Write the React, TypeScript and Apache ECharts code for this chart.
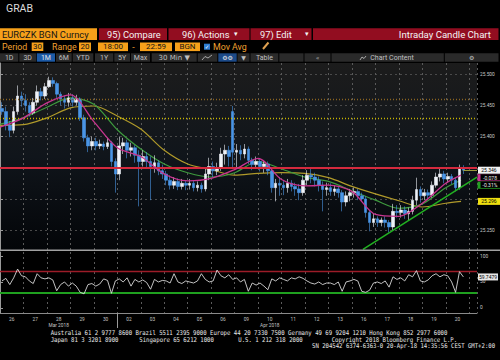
import React, { useEffect, useRef } from 'react';
import * as echarts from 'echarts';

// ---------- data ----------
const dayLabels = ['26', '27', '28', '29', '30', '02', '03', '04', '05', '06', '09', '10', '11', '12', '13', '16', '17', '18', '19', '20'];
const monthLabels = [{ day: 2, text: 'Mar 2018' }, { day: 11, text: 'Apr 2018' }];
const monthStarts = [5];
const slotsPerDay = 6;
const xMax = 20.33;

// 30-min candles grouped by day: [open, close, low, high]
const candles: number[][][] = [
  [[25.445, 25.44, 25.435, 25.455], [25.44, 25.418, 25.41, 25.448], [25.418, 25.41, 25.399, 25.425], [25.41, 25.44, 25.405, 25.448], [25.44, 25.465, 25.435, 25.482], [25.465, 25.458, 25.448, 25.472]],
  [[25.458, 25.45, 25.44, 25.468], [25.45, 25.438, 25.432, 25.455], [25.438, 25.455, 25.435, 25.462], [25.455, 25.472, 25.45, 25.482], [25.472, 25.465, 25.458, 25.478], [25.465, 25.48, 25.46, 25.486]],
  [[25.48, 25.49, 25.478, 25.496], [25.49, 25.485, 25.48, 25.495], [25.485, 25.468, 25.462, 25.488], [25.468, 25.46, 25.45, 25.472], [25.46, 25.455, 25.445, 25.466], [25.455, 25.462, 25.448, 25.47]],
  [[25.462, 25.455, 25.448, 25.468], [25.455, 25.46, 25.45, 25.467], [25.46, 25.43, 25.425, 25.463], [25.43, 25.398, 25.392, 25.435], [25.398, 25.385, 25.375, 25.403], [25.385, 25.392, 25.378, 25.4]],
  [[25.392, 25.385, 25.378, 25.398], [25.385, 25.388, 25.38, 25.395], [25.388, 25.384, 25.378, 25.392], [25.384, 25.39, 25.38, 25.398], [25.39, 25.36, 25.352, 25.393], [25.36, 25.34, 25.31, 25.365]],
  [[25.34, 25.385, 25.33, 25.4], [25.385, 25.39, 25.372, 25.398], [25.39, 25.378, 25.365, 25.395], [25.378, 25.382, 25.368, 25.39], [25.382, 25.37, 25.358, 25.386], [25.37, 25.36, 25.288, 25.378]],
  [[25.36, 25.368, 25.352, 25.378], [25.368, 25.36, 25.35, 25.375], [25.36, 25.352, 25.298, 25.368], [25.352, 25.358, 25.342, 25.37], [25.358, 25.345, 25.338, 25.362], [25.345, 25.34, 25.332, 25.355]],
  [[25.34, 25.33, 25.322, 25.345], [25.33, 25.322, 25.315, 25.338], [25.322, 25.328, 25.316, 25.335], [25.328, 25.32, 25.314, 25.333], [25.32, 25.325, 25.315, 25.332], [25.325, 25.322, 25.314, 25.33]],
  [[25.322, 25.325, 25.315, 25.332], [25.325, 25.318, 25.312, 25.33], [25.318, 25.322, 25.312, 25.328], [25.322, 25.316, 25.31, 25.326], [25.316, 25.34, 25.312, 25.348], [25.34, 25.352, 25.33, 25.366]],
  [[25.352, 25.345, 25.335, 25.36], [25.345, 25.35, 25.338, 25.358], [25.35, 25.372, 25.345, 25.382], [25.372, 25.378, 25.355, 25.387], [25.378, 25.368, 25.352, 25.385], [25.44, 25.375, 25.35, 25.449]],
  [[25.375, 25.378, 25.35, 25.388], [25.378, 25.372, 25.362, 25.386], [25.372, 25.38, 25.365, 25.388], [25.38, 25.362, 25.356, 25.384], [25.362, 25.355, 25.346, 25.366], [25.355, 25.36, 25.348, 25.368]],
  [[25.36, 25.352, 25.344, 25.364], [25.352, 25.356, 25.342, 25.362], [25.356, 25.345, 25.338, 25.36], [25.345, 25.318, 25.31, 25.348], [25.318, 25.325, 25.296, 25.332], [25.325, 25.322, 25.305, 25.335]],
  [[25.322, 25.318, 25.306, 25.33], [25.318, 25.325, 25.31, 25.332], [25.325, 25.32, 25.312, 25.33], [25.32, 25.316, 25.305, 25.326], [25.316, 25.31, 25.298, 25.324], [25.31, 25.33, 25.305, 25.338]],
  [[25.33, 25.338, 25.322, 25.346], [25.338, 25.335, 25.325, 25.348], [25.335, 25.33, 25.32, 25.342], [25.33, 25.322, 25.312, 25.336], [25.322, 25.315, 25.28, 25.328], [25.315, 25.318, 25.305, 25.326]],
  [[25.318, 25.312, 25.305, 25.325], [25.312, 25.316, 25.305, 25.322], [25.316, 25.31, 25.302, 25.32], [25.31, 25.295, 25.28, 25.314], [25.295, 25.305, 25.288, 25.312], [25.305, 25.31, 25.296, 25.316]],
  [[25.31, 25.312, 25.302, 25.318], [25.312, 25.305, 25.298, 25.316], [25.305, 25.3, 25.295, 25.31], [25.3, 25.278, 25.27, 25.304], [25.278, 25.262, 25.248, 25.282], [25.262, 25.268, 25.255, 25.276]],
  [[25.268, 25.262, 25.255, 25.272], [25.262, 25.266, 25.256, 25.27], [25.266, 25.262, 25.254, 25.272], [25.262, 25.255, 25.246, 25.266], [25.255, 25.28, 25.25, 25.292], [25.28, 25.278, 25.27, 25.29]],
  [[25.278, 25.282, 25.27, 25.29], [25.282, 25.276, 25.268, 25.288], [25.276, 25.28, 25.266, 25.286], [25.28, 25.298, 25.275, 25.305], [25.298, 25.315, 25.29, 25.334], [25.315, 25.305, 25.294, 25.32]],
  [[25.305, 25.31, 25.298, 25.316], [25.31, 25.306, 25.298, 25.315], [25.306, 25.322, 25.302, 25.328], [25.322, 25.335, 25.318, 25.342], [25.335, 25.34, 25.328, 25.348], [25.34, 25.332, 25.325, 25.345]],
  [[25.332, 25.336, 25.326, 25.342], [25.336, 25.33, 25.324, 25.34], [25.33, 25.318, 25.312, 25.334], [25.318, 25.35, 25.315, 25.355], [25.35, 25.346, 25.34, 25.354]],
];

// moving averages read at day boundaries
const maDays = [0, 1, 2, 3, 4, 5, 6, 7, 8, 9, 10, 11, 12, 13, 14, 15, 16, 17, 18, 19, 19.65];
const maFast = [25.415, 25.43, 25.454, 25.467, 25.424, 25.382, 25.368, 25.34, 25.329, 25.333, 25.347, 25.365, 25.331, 25.321, 25.322, 25.312, 25.275, 25.272, 25.293, 25.325, 25.338];
const maMid = [25.42, 25.43, 25.447, 25.462, 25.452, 25.411, 25.38, 25.356, 25.342, 25.335, 25.342, 25.36, 25.348, 25.335, 25.328, 25.313, 25.298, 25.285, 25.292, 25.318, 25.33];
const maSlow = [25.418, 25.419, 25.43, 25.446, 25.449, 25.433, 25.412, 25.378, 25.356, 25.347, 25.338, 25.341, 25.342, 25.341, 25.334, 25.32, 25.308, 25.297, 25.287, 25.293, 25.296];
const trendline = [[15.47, 25.219], [20.33, 25.335]];

const levelRed = 25.35;
const levelYellow = 25.425;
const levelOrange = 25.463;

const priceTicks = [25.25, 25.3, 25.35, 25.4, 25.45, 25.5];
const priceLabelTicks = [25.25, 25.4, 25.45, 25.5];
const netChange = '-0.078';
const pctChange = '-0.31%';

// RSI, 30-min, grouped by day
const rsi: number[][] = [
  [52, 57, 45, 58, 75, 62],
  [60, 52, 47, 66, 58, 56],
  [58, 54, 33, 45, 50, 42],
  [48, 42, 30, 27, 45, 47],
  [42, 46, 56, 53, 28, 52],
  [56, 50, 58, 42, 55, 50],
  [54, 49, 36, 55, 50, 53],
  [52, 48, 66, 50, 47, 52],
  [50, 48, 52, 66, 55, 50],
  [52, 73, 62, 58, 64, 55],
  [58, 50, 55, 32, 48, 44],
  [48, 42, 35, 56, 52, 58],
  [55, 52, 58, 56, 60, 57],
  [52, 48, 46, 50, 45, 48],
  [48, 45, 50, 32, 50, 52],
  [55, 52, 32, 30, 34, 48],
  [50, 47, 52, 40, 60, 55],
  [58, 52, 64, 60, 72, 52],
  [50, 54, 62, 66, 60, 64],
  [62, 50, 30, 70, 59.7479],
];
const rsiTicks = [0, 50, 100];
const rsiHigh = 70;
const rsiLow = 30;

const footer1 = 'Australia 61 2 9777 8600 Brazil 5511 2395 9000 Europe 44 20 7330 7500 Germany 49 69 9204 1210 Hong Kong 852 2977 6000';
const footer2a = 'Japan 81 3 3201 8900';
const footer2b = 'Singapore 65 6212 1000';
const footer2c = 'U.S. 1 212 318 2000';
const footer2d = 'Copyright 2018 Bloomberg Finance L.P.';
const footer3 = 'SN 204542 6374-6363-0 20-Apr-18 14:35:56 CEST GMT+2:00';

// ---------- helpers ----------
const AX = 'Roboto';
function txt(x: number, y: number, text: string, o: any = {}) {
  return {
    type: 'text', x, y, z: 120, silent: true, scaleX: o.sx ?? 1,
    style: {
      text, fill: o.color ?? '#e0e0e0', fontSize: o.size ?? 8, fontFamily: o.font ?? AX,
      fontWeight: o.weight ?? 'normal',
      align: o.align ?? 'left', textAlign: o.align ?? 'left',
      verticalAlign: 'middle', textVerticalAlign: 'middle',
    },
  };
}
function box(x: number, y: number, w: number, h: number, fill: string, z = 110) {
  return { type: 'rect', z, silent: true, shape: { x, y, width: w, height: h }, style: { fill } };
}

export default function App() {
  const ref = useRef<HTMLDivElement>(null);
  useEffect(() => {
    const chart = echarts.init(ref.current!, undefined, { renderer: 'svg' });

    const candleData = candles.flatMap((day, d) =>
      day.map((c, s) => [d + (s + 0.5) / slotsPerDay, c[0], c[1], c[2], c[3]]));
    const rsiData = rsi.flatMap((day, d) => day.map((v, s) => [d + (s + 0.5) / slotsPerDay, v]));
    const lastDay = candles[candles.length - 1];
    const lastCandle = lastDay[lastDay.length - 1];
    const lastX = candles.length - 1 + (lastDay.length - 0.5) / slotsPerDay;
    const lastClose = lastCandle[1];
    const lastRsi = rsiData[rsiData.length - 1][1];
    const lastSlow = maSlow[maSlow.length - 1];

    const gridLine = { show: true, lineStyle: { color: '#5a5a5a', type: [2, 3], width: 1 } };

    chart.setOption({
      animation: false,
      backgroundColor: '#000',
      grid: [
        {
          left: 0, top: 63, width: 477, height: 187, show: true, borderWidth: 0,
          backgroundColor: new echarts.graphic.LinearGradient(0, 0, 0, 1, [
            { offset: 0, color: '#1c1c1c' },
            { offset: 0.5, color: '#10151b' },
            { offset: 1, color: '#030508' },
          ]),
        },
        { left: 0, top: 252, width: 477, height: 61 },
      ],
      xAxis: [
        {
          gridIndex: 0, type: 'value', min: 0, max: xMax, interval: 1,
          axisLine: { show: false }, axisTick: { show: false }, axisLabel: { show: false },
          splitLine: gridLine,
        },
        {
          gridIndex: 1, type: 'value', position: 'bottom', min: 0, max: xMax, interval: 1,
          axisLine: { show: true, onZero: false, lineStyle: { color: '#8a8a8a', width: 1 } },
          axisTick: { show: false },
          splitLine: gridLine,
          axisLabel: {
            show: true, customValues: dayLabels.map((_, i) => i + 0.5),
            color: '#c4c4c4', fontSize: 4.8, fontFamily: AX, margin: 3, lineHeight: 6,
            formatter: (v: number) => {
              const i = Math.round(v - 0.5);
              const m = monthLabels.find((ml) => ml.day === i);
              return (dayLabels[i] ?? '') + (m ? '\n' + m.text : '');
            },
          },
        },
        {
          gridIndex: 1, type: 'value', position: 'bottom', offset: 0, min: 0, max: xMax,
          axisLine: { show: false, onZero: false }, axisLabel: { show: false }, splitLine: { show: false },
          axisTick: { show: true, inside: false, customValues: monthStarts, length: 15, lineStyle: { color: '#9a9a9a', width: 1 } },
        },
      ],
      yAxis: [
        {
          gridIndex: 0, type: 'value', position: 'right', min: 25.218, max: 25.518, scale: true,
          axisLine: { show: true, lineStyle: { color: '#9a9a9a' } },
          axisTick: { show: true, customValues: priceTicks, length: 3, lineStyle: { color: '#9a9a9a' } },
          axisLabel: {
            customValues: priceLabelTicks, color: '#c8c8c8', fontSize: 4.8, fontFamily: AX, margin: 3,
            formatter: (v: number) => v.toFixed(3),
          },
          splitLine: { show: true, lineStyle: { color: '#4a4a4a', type: [2, 3], width: 1 } },
        },
        {
          gridIndex: 1, type: 'value', position: 'right', min: -10, max: 108,
          axisLine: { show: true, lineStyle: { color: '#9a9a9a' } },
          axisTick: { show: true, customValues: rsiTicks, length: 3, lineStyle: { color: '#9a9a9a' } },
          axisLabel: { customValues: rsiTicks, color: '#c8c8c8', fontSize: 4.8, fontFamily: AX, margin: 3 },
          splitLine: { show: false },
        },
      ],
      series: [
        {
          type: 'line', xAxisIndex: 0, yAxisIndex: 0, data: [], silent: true,
          markLine: {
            silent: true, symbol: ['none', 'none'], label: { show: false },
            data: [
              { yAxis: levelOrange, lineStyle: { color: '#8a6420', width: 1.4, type: [1, 2] } },
              { yAxis: levelYellow, lineStyle: { color: '#c8b400', width: 1.4, type: [1, 2] } },
              { yAxis: levelRed, lineStyle: { color: '#d42a3e', width: 2, type: 'solid' } },
            ],
          },
        },
        {
          type: 'line', xAxisIndex: 0, yAxisIndex: 0, symbol: 'none', smooth: 0.3,
          data: maDays.map((d, i) => [d, maSlow[i]]),
          lineStyle: { color: '#b09a2a', width: 1.2 }, z: 3,
        },
        {
          type: 'line', xAxisIndex: 0, yAxisIndex: 0, symbol: 'none', smooth: 0.3,
          data: maDays.map((d, i) => [d, maMid[i]]),
          lineStyle: { color: '#3e9a3e', width: 1.2 }, z: 3,
        },
        {
          type: 'candlestick', xAxisIndex: 0, yAxisIndex: 0, data: candleData, barWidth: 3.1, z: 4,
          itemStyle: { color: '#eef2f8', color0: '#4a95e6', borderColor: '#eef2f8', borderColor0: '#4a95e6', borderWidth: 0.6 },
          markLine: {
            silent: true, symbol: ['none', 'none'], label: { show: false },
            data: [[{ coord: [lastX, lastClose] }, { coord: [xMax, lastClose] }]],
            lineStyle: { color: '#9a9a3a', width: 1, type: 'solid' },
          },
        },
        {
          type: 'line', xAxisIndex: 0, yAxisIndex: 0, symbol: 'none', smooth: 0.3,
          data: maDays.map((d, i) => [d, maFast[i]]),
          lineStyle: { color: '#c8358f', width: 1.3 }, z: 5,
        },
        {
          type: 'line', xAxisIndex: 0, yAxisIndex: 0, symbol: 'none',
          data: trendline, lineStyle: { color: '#22b022', width: 1.6 }, z: 6,
        },
        {
          type: 'line', xAxisIndex: 1, yAxisIndex: 1, symbol: 'none', data: rsiData,
          lineStyle: { color: '#d8d8d8', width: 0.9 }, z: 5,
          markLine: {
            silent: true, symbol: ['none', 'none'], label: { show: false },
            data: [
              { yAxis: rsiHigh, lineStyle: { color: '#9c1c28', width: 1.4, type: 'solid' } },
              { yAxis: rsiLow, lineStyle: { color: '#1fa01f', width: 2, type: 'solid' } },
            ],
          },
        },
      ],
    });

    const yLast = chart.convertToPixel({ yAxisIndex: 0 }, lastClose) as number;
    const ySlow = chart.convertToPixel({ yAxisIndex: 0 }, lastSlow) as number;
    const yRsi = chart.convertToPixel({ yAxisIndex: 1 }, lastRsi) as number;

    const els: any[] = [];
    // title
    els.push(txt(6, 8.5, 'GRAB', { size: 10.5, color: '#dcdcdc' }));
    // row 1
    const red = '#920d20';
    els.push(box(0, 28.3, 97, 11.7, '#f6a01a'));
    els.push(txt(2, 34.3, 'EURCZK BGN Curncy', { size: 9.3, color: '#151515' }));
    els.push(box(99, 28.3, 68, 11.7, red));
    els.push(txt(107, 34.3, '95) Compare', { size: 9.3, color: '#f4f4f4' }));
    els.push(box(168.5, 28.3, 81, 11.7, red));
    els.push(txt(182, 34.3, '96) Actions', { size: 9.3, color: '#f4f4f4' }));
    els.push(txt(234, 34.3, '▾', { size: 7, color: '#f4f4f4', font: 'DejaVu Sans' }));
    els.push(box(250.5, 28.3, 61, 11.7, red));
    els.push(txt(260, 34.3, '97) Edit', { size: 9.3, color: '#f4f4f4' }));
    els.push(txt(305, 34.3, '▾', { size: 7, color: '#f4f4f4', font: 'DejaVu Sans' }));
    els.push(box(313, 28.3, 185.5, 11.7, red));
    els.push(txt(491, 34.3, 'Intraday Candle Chart', { size: 9.6, color: '#f4f4f4', align: 'right' }));
    // row 2
    const amber = '#f6a01a';
    const orangeTxt = '#f0a030';
    els.push(txt(2, 46.8, 'Period', { size: 8.8, color: orangeTxt }));
    els.push(box(31.7, 42.5, 11.6, 8.6, amber));
    els.push(txt(37.5, 46.8, '30', { size: 8, color: '#151515', align: 'center' }));
    els.push(txt(52, 46.8, 'Range', { size: 8.8, color: orangeTxt }));
    els.push(box(79, 42.5, 12, 8.6, amber));
    els.push(txt(85, 46.8, '20', { size: 8, color: '#151515', align: 'center' }));
    els.push(box(98, 42.5, 30, 8.6, amber));
    els.push(txt(113, 46.8, '18:00', { size: 8, color: '#151515', align: 'center' }));
    els.push(txt(133.5, 46.8, '-', { size: 8.8, color: orangeTxt, align: 'center' }));
    els.push(box(140, 42.5, 32, 8.6, amber));
    els.push(txt(156, 46.8, '22:59', { size: 8, color: '#151515', align: 'center' }));
    els.push(box(175, 42.5, 25, 8.6, amber));
    els.push(txt(187.5, 46.8, 'BGN', { size: 8, color: '#151515', align: 'center' }));
    els.push(box(204, 43.7, 6, 6, '#2f7fd5'));
    els.push(txt(207, 46.8, '✓', { size: 5.5, color: '#ffffff', align: 'center', font: 'DejaVu Sans' }));
    els.push(txt(213, 46.8, 'Mov Avg', { size: 8.8, color: orangeTxt }));
    els.push({ type: 'line', z: 120, silent: true, shape: { x1: 263, y1: 49, x2: 268.5, y2: 42.5 }, style: { stroke: '#e0a050', lineWidth: 2 } });
    // row 3
    const btn = '#2a2a2a';
    const btnTxt = '#c0c0c0';
    const buttons: [number, number, string, string?][] = [
      [0, 18.3, '1D'], [19.3, 36, '3D'], [36.8, 55, '1M', '#1c5aa6'], [56, 71.7, '6M'],
      [72.7, 93.3, 'YTD'], [95, 113.3, '1Y'], [114.3, 130, '5Y'], [131, 150, 'Max'],
      [151.7, 196.7, '30 Min ▼'], [197.7, 217.3, ''], [218.3, 236.7, '⚙⚙', '#1c4a88'], [237.5, 249.5, '▼'],
      [250.5, 278.3, 'Table'], [279.3, 303.5, ''], [304.5, 330.5, '«'], [331.5, 443.8, 'Chart Content'], [444.8, 498.5, '⚙'],
    ];
    buttons.forEach(([x0, x1, label, bg]) => {
      els.push(box(x0, 53.3, x1 - x0, 8.4, bg ?? btn));
      if (label) {
        const cx = label === 'Chart Content' ? 392 : (x0 + x1) / 2;
        const sym = /[⚙▼«]/.test(label) && label.length <= 2;
        els.push(txt(cx, 57.6, label, { size: sym ? 6 : 7, color: bg ? '#e8e8e8' : btnTxt, align: 'center', font: sym || label.includes('▼') ? 'DejaVu Sans' : AX }));
      }
    });
    els.push({ type: 'polyline', z: 121, silent: true, shape: { points: [[202, 60], [205, 56.5], [208, 58], [212, 55]] }, style: { stroke: '#c8c8c8', lineWidth: 0.8, fill: 'none' } });
    els.push({ type: 'polyline', z: 121, silent: true, shape: { points: [[360, 60], [362, 57], [364, 58.5], [366, 56]] }, style: { stroke: '#c8c8c8', lineWidth: 0.8, fill: 'none' } });
    // panel separator
    els.push(box(0, 249.6, 500, 1.4, '#a0a0a0', 115));
    // right-side value tags
    els.push(box(478, yLast - 3.5, 22, 7, '#f2f2f2'));
    els.push(txt(489, yLast, lastClose.toFixed(3), { size: 5, color: '#000', align: 'center' }));
    els.push(box(477.5, yLast + 4, 22.5, 7, '#c8358f'));
    els.push(box(480.5, yLast + 4, 19.5, 6.2, '#000', 111));
    els.push(txt(490, yLast + 7.3, netChange, { size: 5, color: '#ececec', align: 'center' }));
    els.push(box(477.5, yLast + 11.5, 22.5, 7, '#22a022'));
    els.push(box(480.5, yLast + 11.5, 19.5, 6.2, '#000', 111));
    els.push(txt(490, yLast + 14.8, pctChange, { size: 5, color: '#ececec', align: 'center' }));
    els.push(box(478, ySlow - 3.5, 22, 7, '#efe010'));
    els.push(txt(489, ySlow, lastSlow.toFixed(3), { size: 5, color: '#000', align: 'center' }));
    els.push(box(478, yRsi - 3.5, 20, 7, '#e6e6e6'));
    els.push(txt(488, yRsi, String(lastRsi), { size: 5, color: '#000', align: 'center' }));
    // footer
    const mono = { size: 6.5, color: '#e8e8e8', font: 'DejaVu Sans Mono', sx: 0.867 };
    els.push(txt(50.7, 332, footer1, mono));
    els.push(txt(50.7, 339, footer2a, mono));
    els.push(txt(139.3, 339, footer2b, mono));
    els.push(txt(238.3, 339, footer2c, mono));
    els.push(txt(331.7, 339, footer2d, mono));
    els.push(txt(312, 345, footer3, mono));

    chart.setOption({ graphic: { elements: els } });
    return () => chart.dispose();
  }, []);
  return <div ref={ref} style={{ position: 'fixed', left: 0, top: 0, width: 500, height: 360, background: '#000' }} />;
}
